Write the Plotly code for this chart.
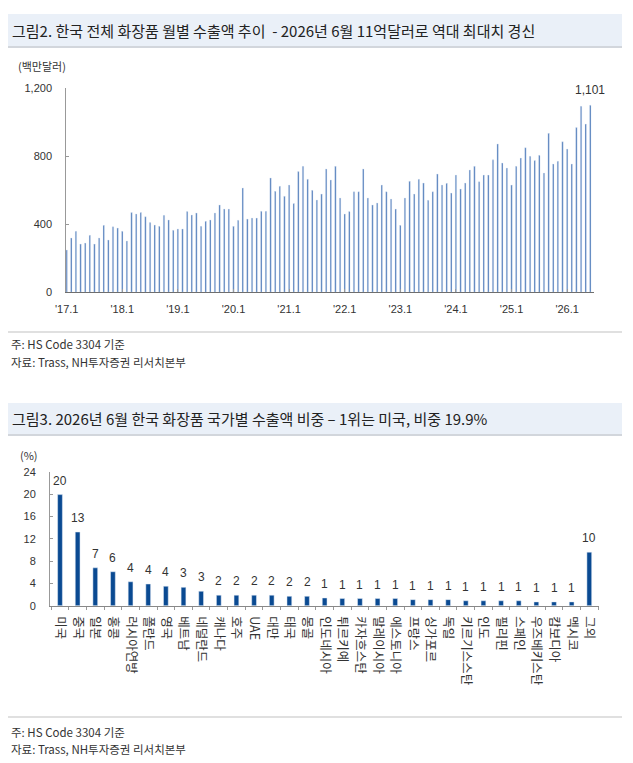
import plotly.graph_objects as go

W, H = 633, 763

# ---------------- data ----------------
exports = [249, 320, 359, 284, 290, 335, 284, 320, 394, 308, 386, 378,   # 2017
           359, 302, 469, 461, 469, 445, 410, 396, 388, 453, 426, 365,   # 2018
           373, 373, 475, 455, 467, 388, 418, 426, 467, 514, 490, 490,   # 2019
           388, 424, 614, 431, 437, 437, 477, 477, 673, 594, 624, 565,   # 2020
           631, 522, 710, 741, 665, 600, 543, 578, 726, 661, 741, 555,   # 2021
           461, 475, 592, 592, 726, 555, 514, 526, 631, 592, 549, 490,   # 2022
           394, 555, 653, 578, 665, 643, 541, 592, 696, 631, 641, 584,   # 2023
           690, 608, 643, 720, 741, 651, 690, 690, 779, 873, 761, 731,   # 2024
           631, 741, 790, 851, 800, 775, 806, 702, 935, 755, 771, 886,   # 2025
           843, 755, 969, 1094, 990, 1101]                               # 2026
month_labels = [f"'{y % 100:02d}.{m}" for y in range(2017, 2027) for m in range(1, 13)][:len(exports)]
year_ticks = ["'17.1", "'18.1", "'19.1", "'20.1", "'21.1", "'22.1", "'23.1", "'24.1", "'25.1", "'26.1"]
y1_ticks = [0, 400, 800, 1200]

countries = ["미국", "중국", "일본", "홍콩", "러시아연방", "폴란드", "영국", "베트남", "네덜란드", "캐나다",
             "호주", "UAE", "대만", "태국", "몽골", "인도네시아", "튀르키예", "카자흐스탄", "말레이시아",
             "에스토니아", "프랑스", "싱가포르", "독일", "키르기스스탄", "인도", "필리핀", "스페인",
             "우즈베키스탄", "캄보디아", "멕시코", "그외"]
shares = [19.9, 13.2, 6.8, 6.1, 4.3, 3.9, 3.5, 3.3, 2.6, 1.9,
          1.9, 1.9, 1.9, 1.7, 1.7, 1.4, 1.3, 1.3, 1.3,
          1.3, 1.1, 1.1, 1.1, 0.9, 0.9, 0.9, 0.9,
          0.7, 0.7, 0.7, 9.6]
y2_ticks = [0, 4, 8, 12, 16, 20, 24]

title1 = "그림2. 한국 전체 화장품 월별 수출액 추이  - 2026년 6월 11억달러로 역대 최대치 경신"
title2 = "그림3. 2026년 6월 한국 화장품 국가별 수출액 비중 – 1위는 미국, 비중 19.9%"
note1 = "주: HS Code 3304 기준"
note2 = "자료: Trass, NH투자증권 리서치본부"

# ---------------- helpers ----------------
def px(p):
    return p / W

def py(p):
    return 1 - p / H

KR = "Noto Sans CJK KR"
NUM = "Liberation Sans, Arial"
TXT = "#333333"

fig = go.Figure()
fig.add_trace(go.Bar(x=month_labels, y=exports, marker_color="#3668b0", width=0.3,
                     xaxis="x", yaxis="y", hoverinfo="skip", showlegend=False))
fig.add_trace(go.Bar(x=countries, y=shares, marker_color="#0a4a92", width=0.27,
                     xaxis="x2", yaxis="y2", hoverinfo="skip", showlegend=False))

annotations = []
# value labels chart 2
for c, v in zip(countries, shares):
    annotations.append(dict(x=c, y=v, xref="x2", yref="y2", text=f"{round(v):d}",
                            showarrow=False, yanchor="bottom", yshift=5,
                            font=dict(family=NUM, size=12, color=TXT)))
# last value label chart 1
annotations.append(dict(x=month_labels[-1], y=exports[-1], xref="x", yref="y",
                        text=f"{exports[-1]:,}", showarrow=False, yanchor="bottom", yshift=6,
                        font=dict(family=NUM, size=12, color=TXT)))

def text_ann(x, y, t, size, color="#222222", fam=KR):
    return dict(x=px(x), y=py(y), xref="paper", yref="paper", text=t, showarrow=False,
                xanchor="left", yanchor="middle", font=dict(family=fam, size=size, color=color))

annotations += [
    text_ann(10, 31, title1, 15),
    text_ann(16, 66, "(백만달러)", 11, TXT),
    text_ann(9, 344, note1, 11.5, TXT),
    text_ann(9, 362, note2, 11.5, TXT),
    text_ann(10, 418, title2, 15),
    text_ann(18, 455, "(%)", 11, TXT),
    text_ann(9, 732, note1, 11.5, TXT),
    text_ann(9, 749, note2, 11.5, TXT),
]

shapes = []
for top, bot in [(14, 46), (403, 434)]:
    shapes.append(dict(type="rect", xref="paper", yref="paper", x0=px(8), x1=px(622),
                       y0=py(bot), y1=py(top), fillcolor="#eaf0f8", line=dict(width=0), layer="below"))
    shapes.append(dict(type="line", xref="paper", yref="paper", x0=px(8), x1=px(622),
                       y0=py(bot + 1), y1=py(bot + 1), line=dict(color="#d2d6dc", width=2)))
for yy in [332, 717]:
    shapes.append(dict(type="line", xref="paper", yref="paper", x0=px(8), x1=px(622),
                       y0=py(yy), y1=py(yy), line=dict(color="#d6d6d6", width=1.5)))

common = dict(automargin=False, showgrid=False, zeroline=False)

fig.update_layout(
    width=W, height=H, margin=dict(l=0, r=0, t=0, b=0, pad=0, autoexpand=False),
    paper_bgcolor="white", plot_bgcolor="white",
    showlegend=False,
    annotations=annotations, shapes=shapes,
    xaxis=dict(domain=[px(66.2), px(593.8)], anchor="y", type="category",
               range=[-0.1, len(exports) - 0.25],
               tickmode="array", tickvals=year_ticks, ticktext=year_ticks,
               ticks="inside", ticklen=3, tickcolor="#999999",
               showline=True, linecolor="#6e6e6e", linewidth=1,
               ticklabelstandoff=6,
               tickfont=dict(family=NUM, size=11, color=TXT), **common),
    yaxis=dict(domain=[py(292.3), py(88.3)], anchor="x", range=[0, 1200],
               tickmode="array", tickvals=y1_ticks, tickformat=",",
               ticks="inside", ticklen=3, tickcolor="#999999",
               showline=True, linecolor="#999999", linewidth=1,
               ticklabelstandoff=11,
               tickfont=dict(family=NUM, size=11, color=TXT), **common),
    xaxis2=dict(domain=[px(50), px(599)], anchor="y2", type="category",
                range=[-0.567, len(countries) - 0.45],
                tickangle=90, ticks="outside", tickson="boundaries", ticklen=3,
                tickcolor="#999999",
                showline=True, linecolor="#888888", linewidth=1,
                ticklabelstandoff=7,
                tickfont=dict(family=KR, size=12.5, color=TXT), **common),
    yaxis2=dict(domain=[py(605.8), py(471.7)], anchor="x2", range=[0, 24],
                tickmode="array", tickvals=y2_ticks,
                ticks="inside", ticklen=3, tickcolor="#999999",
                showline=True, linecolor="#999999", linewidth=1,
                ticklabelstandoff=11,
                tickfont=dict(family=NUM, size=11, color=TXT), **common),
)

fig.write_html("out.html",
               post_script="document.body.style.margin='0';document.body.style.padding='0';"
                           "document.body.style.overflow='hidden';")
